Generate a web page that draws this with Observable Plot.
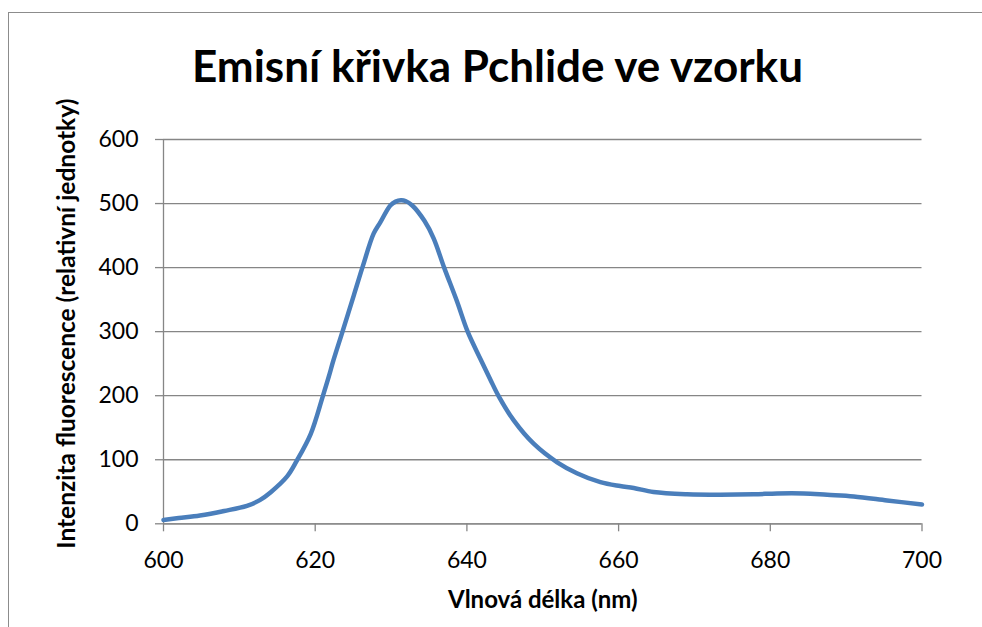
<!DOCTYPE html>
<html>
<head>
<meta charset="utf-8">
<script src="https://cdn.jsdelivr.net/npm/d3@7"></script>
<script src="https://cdn.jsdelivr.net/npm/@observablehq/plot@0.6"></script>
<style>
  html, body { margin: 0; padding: 0; background: #fff; overflow: hidden; }
  body { width: 982px; height: 627px; position: relative; font-family: Lato, "Noto Sans", sans-serif; }
  #frame { position: absolute; left: 8px; top: 12px; width: 1000px; height: 700px;
           border-left: 1.5px solid #8c8c8c; border-top: 1.5px solid #8c8c8c; }
  #title { position: absolute; left: 0; width: 995px; text-align: center; top: 39px;
           font: bold 44px Lato, "Noto Sans", sans-serif; color: #000; white-space: nowrap; }
  #chart { position: absolute; left: 0; top: 0; }
</style>
</head>
<body>
<div id="frame"></div>
<div id="title">Emisní křivka Pchlide ve vzorku</div>
<div id="chart"></div>
<script>
const titleText = "Emisní křivka Pchlide ve vzorku";
const xLabel = "Vlnová délka (nm)";
const yLabel = "Intenzita fluorescence (relativní jednotky)";

const xTicks = [600, 620, 640, 660, 680, 700];
const yTicks = [0, 100, 200, 300, 400, 500, 600];

const wavelength = [600, 602, 604.8, 608, 611, 612.7, 614.1, 616.3, 617.6, 619.4, 621.0, 621.8, 622.4, 623.6, 625.1, 626.3, 627.7, 628.6, 629.9, 630.6, 631.3, 631.9, 632.8, 634.4, 635.6, 637.0, 638.7, 640.1, 641.8, 643.1, 644.2, 646.2, 648.8, 651.9, 654.5, 657.6, 660.2, 662.0, 664.6, 669.0, 673.4, 677.8, 680.9, 684.4, 687.5, 691.0, 695.4, 700];
const intensity  = [6, 9, 13, 20, 28, 37, 49, 74, 99, 140, 199, 230, 255, 300, 357, 403, 453, 471, 497, 503, 505, 504, 497, 473, 446, 400, 347, 300, 257, 225, 199, 161, 125, 96, 79, 65, 59, 56, 49.5, 46, 45.3, 46, 47.5, 47.5, 45.3, 42.7, 36.5, 30];

const data = wavelength.map((w, i) => ({w, v: intensity[i]}));

const gray = "#868686";
const font = "Lato, 'Noto Sans', sans-serif";

const chart = Plot.plot({
  width: 982,
  height: 627,
  marginLeft: 163,
  marginRight: 60.5,
  marginTop: 139,
  marginBottom: 103.7,
  style: {fontFamily: font, background: "transparent", overflow: "visible", color: "#000"},
  x: {domain: [600, 700]},
  y: {domain: [0, 600]},
  marks: [
    Plot.gridY(yTicks, {stroke: gray, strokeOpacity: 1, strokeWidth: 1.3}),
    Plot.ruleX([600], {stroke: gray, strokeWidth: 1.3}),
    Plot.ruleY([0], {stroke: gray, strokeWidth: 1.3}),
    Plot.axisY(yTicks, {tickSize: 8, tickPadding: 17, stroke: gray, strokeWidth: 1.3, fill: "#000", fontSize: 23, label: null}),
    Plot.axisX(xTicks, {tickSize: 8, tickPadding: 20, stroke: gray, strokeWidth: 1.3, fill: "#000", fontSize: 23, label: null}),
    Plot.line(data, {x: "w", y: "v", stroke: "#4a7ebb", strokeWidth: 4.5, curve: "catmull-rom", strokeLinejoin: "round", strokeLinecap: "round"}),
    Plot.text([xLabel], {frameAnchor: "bottom", lineAnchor: "bottom", dy: 83.7, fontSize: 24, fontWeight: "bold", fill: "#000"}),
    Plot.text([yLabel], {frameAnchor: "left", textAnchor: "middle", lineAnchor: "bottom", rotate: -90, dx: -89, dy: -8, fontSize: 24.5, fontWeight: "bold", fill: "#000"})
  ]
});
document.getElementById("chart").appendChild(chart);
</script>
</body>
</html>
